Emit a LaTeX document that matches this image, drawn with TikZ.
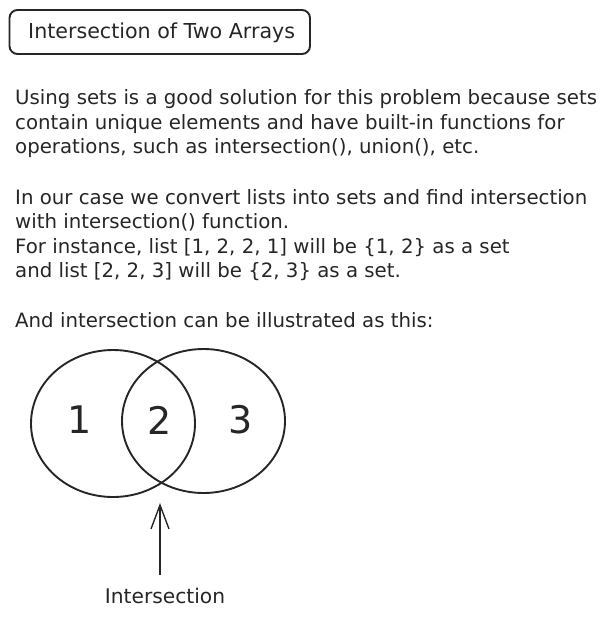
\documentclass[tikz,border=0pt]{standalone}
\usepackage{fontspec}
\setmainfont{DejaVu Sans}
\usetikzlibrary{arrows.meta,shapes.geometric}
\begin{document}
\begin{tikzpicture}[x=1pt,y=-1pt,
  txt/.style={anchor=base west,inner sep=0pt,font=\fontsize{19.75}{24}\selectfont,text=black!85},
  digit/.style={anchor=base,inner sep=0pt,font=\fontsize{38}{40}\selectfont,text=black!85},
  ring/.style={draw=black!85,line width=1.9pt,ellipse,inner sep=0pt},
  titlebox/.style={draw=black!85,line width=1.9pt,rounded corners=8pt},
  pointer/.style={draw=black!85,line width=1.4pt,-{Straight Barb[length=24pt,width=18pt,line width=1.4pt]}}]
\useasboundingbox (0,0) rectangle (610,619);
% title
\draw[titlebox] (9.5,10) rectangle (310,54);
\node[txt,font=\fontsize{20.6}{24}\selectfont] (title) at (28,38) {Intersection of Two Arrays};
% paragraphs
\node[txt] (l1) at (15,104) {Using sets is a good solution for this problem because sets};
\node[txt] (l2) at (15,129) {contain unique elements and have built-in functions for};
\node[txt] (l3) at (15,153) {operations, such as intersection(), union(), etc.};
\node[txt] (l4) at (15,204) {In our case we convert lists into sets and find intersection};
\node[txt] (l5) at (15,228) {with intersection() function.};
\node[txt] (l6) at (15,253) {For instance, list [1, 2, 2, 1] will be \{1, 2\} as a set};
\node[txt] (l7) at (15,277) {and list [2, 2, 3] will be \{2, 3\} as a set.};
\node[txt] (l8) at (15,327) {And intersection can be illustrated as this:};
% venn
\node[ring,minimum width=164pt,minimum height=147pt] (setA) at (113,423.5) {};
\node[ring,minimum width=163pt,minimum height=144pt] (setB) at (203.5,421) {};
\node[digit] (d1) at (80,433) {1};
\node[digit] (d2) at (160,434) {2};
\node[digit] (d3) at (241,433) {3};
% pointer
\node[txt,anchor=base,font=\fontsize{20.2}{24}\selectfont] (lbl) at (165,603) {Intersection};
\coordinate (tail) at (160,575);
\coordinate (tip) at (160,503);
\draw[pointer] (tail) -- (tip);
\end{tikzpicture}
\end{document}
